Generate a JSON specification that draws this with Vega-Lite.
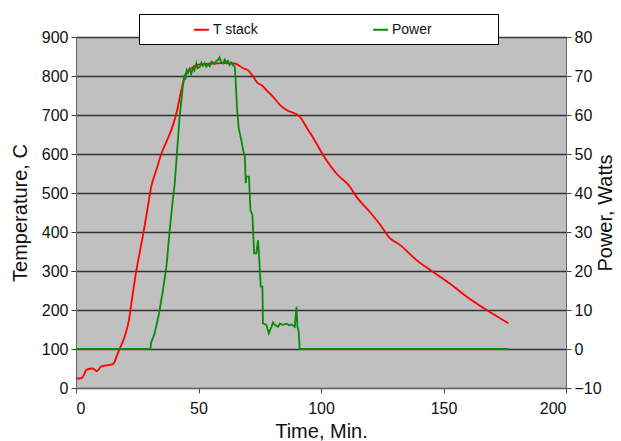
{
  "$schema": "https://vega.github.io/schema/vega-lite/v6.json",
  "width": 490,
  "height": 351,
  "autosize": {"type": "none"},
  "padding": {"left": 76, "top": 37, "right": 55, "bottom": 53},
  "background": "white",
  "config": {
    "view": {"fill": "#C0C0C0", "stroke": "#808080", "strokeWidth": 1},
    "font": "Liberation Sans",
    "axis": {
      "labelFont": "Liberation Sans",
      "titleFont": "Liberation Sans",
      "labelFontSize": 16,
      "titleFontSize": 20,
      "titleFontWeight": "normal",
      "labelColor": "#111",
      "titleColor": "#111",
      "tickColor": "#444",
      "domainColor": "#666",
      "tickSize": 5,
      "labelPadding": 3
    },
    "legend": {
      "orient": "none",
      "legendX": 63,
      "legendY": -23,
      "direction": "horizontal",
      "fillColor": "white",
      "strokeColor": "black",
      "padding": 7,
      "symbolType": "stroke",
      "symbolStrokeWidth": 2,
      "symbolSize": 220,
      "symbolOffset": 47,
      "labelFont": "Liberation Sans",
      "labelFontSize": 14,
      "labelColor": "#111",
      "labelOffset": 3,
      "columnPadding": 66
    }
  },
  "datasets": {
    "tstack": [
      {"t": 0, "T": 24}, {"t": 2.2, "T": 25}, {"t": 3.2, "T": 33}, {"t": 4.3, "T": 47},
      {"t": 6.9, "T": 50}, {"t": 8.5, "T": 43}, {"t": 10.3, "T": 55}, {"t": 12.3, "T": 58},
      {"t": 14.4, "T": 60}, {"t": 15.5, "T": 64}, {"t": 16.4, "T": 78}, {"t": 17.8, "T": 100},
      {"t": 19.8, "T": 131}, {"t": 21.6, "T": 174}, {"t": 22.6, "T": 217}, {"t": 24.6, "T": 300},
      {"t": 26.2, "T": 354}, {"t": 27.6, "T": 401}, {"t": 29.1, "T": 456}, {"t": 30.7, "T": 516},
      {"t": 32.8, "T": 559}, {"t": 34.8, "T": 600}, {"t": 37.5, "T": 640}, {"t": 39.6, "T": 674},
      {"t": 41.3, "T": 713}, {"t": 43, "T": 764}, {"t": 44.3, "T": 798}, {"t": 45.5, "T": 810},
      {"t": 47.1, "T": 820}, {"t": 49.1, "T": 828}, {"t": 52, "T": 830}, {"t": 56, "T": 832},
      {"t": 60, "T": 833}, {"t": 64.8, "T": 832}, {"t": 68.2, "T": 820}, {"t": 70.2, "T": 815},
      {"t": 72.3, "T": 798}, {"t": 74.3, "T": 781}, {"t": 75.7, "T": 777}, {"t": 77.7, "T": 764},
      {"t": 80.4, "T": 747}, {"t": 83.2, "T": 726}, {"t": 85.9, "T": 713}, {"t": 89.3, "T": 704},
      {"t": 91.3, "T": 696}, {"t": 94.7, "T": 662}, {"t": 96.1, "T": 649}, {"t": 100.9, "T": 597},
      {"t": 106.3, "T": 550}, {"t": 111.8, "T": 516}, {"t": 114.5, "T": 490}, {"t": 119.3, "T": 456},
      {"t": 124, "T": 420}, {"t": 128, "T": 385}, {"t": 132.2, "T": 367}, {"t": 139, "T": 328},
      {"t": 145.2, "T": 300}, {"t": 152.6, "T": 268}, {"t": 159.5, "T": 234}, {"t": 167.6, "T": 200},
      {"t": 176.5, "T": 166}
    ],
    "power": [
      {"t": 0, "P": 0}, {"t": 30.4, "P": 0}, {"t": 30.6, "P": 1.5}, {"t": 32.1, "P": 4},
      {"t": 33.9, "P": 9.1}, {"t": 35.5, "P": 15.1}, {"t": 36.9, "P": 21.1}, {"t": 38.2, "P": 30.1},
      {"t": 39.3, "P": 37}, {"t": 40.3, "P": 42.5}, {"t": 41.2, "P": 50.2}, {"t": 42.3, "P": 59.6},
      {"t": 43.6, "P": 67.3}, {"t": 44.3, "P": 70}, {"t": 44.7, "P": 69.5}, {"t": 45.2, "P": 71.5},
      {"t": 45.7, "P": 70.8}, {"t": 46.3, "P": 71.8}, {"t": 47, "P": 70.5}, {"t": 47.7, "P": 72},
      {"t": 48.3, "P": 71.4}, {"t": 49.1, "P": 73.2}, {"t": 49.6, "P": 72}, {"t": 50.5, "P": 72.3},
      {"t": 51.2, "P": 73.4}, {"t": 51.8, "P": 72.6}, {"t": 52.5, "P": 73.3}, {"t": 53.2, "P": 72.4},
      {"t": 54, "P": 73}, {"t": 54.6, "P": 72.5}, {"t": 55.3, "P": 73.7}, {"t": 56, "P": 73.4},
      {"t": 56.6, "P": 73.1}, {"t": 57.3, "P": 73.9}, {"t": 57.9, "P": 74.1}, {"t": 58.6, "P": 74.8},
      {"t": 59.2, "P": 73.6}, {"t": 60, "P": 73.2}, {"t": 60.7, "P": 74.2}, {"t": 61.4, "P": 73.4},
      {"t": 62, "P": 73.9}, {"t": 62.7, "P": 72.8}, {"t": 63.4, "P": 73.5}, {"t": 64.1, "P": 72.8},
      {"t": 64.8, "P": 72.4}, {"t": 65.2, "P": 68.6}, {"t": 65.7, "P": 61.8}, {"t": 66.4, "P": 56.7},
      {"t": 67.5, "P": 53.5}, {"t": 68.2, "P": 51}, {"t": 68.9, "P": 49.3}, {"t": 69.3, "P": 42.5},
      {"t": 69.5, "P": 44.2}, {"t": 70.6, "P": 44.2}, {"t": 71.2, "P": 35.6}, {"t": 72, "P": 34.4},
      {"t": 72.7, "P": 24.5}, {"t": 73.6, "P": 24.5}, {"t": 74.3, "P": 27.9}, {"t": 74.7, "P": 24.1},
      {"t": 75.4, "P": 16}, {"t": 76.1, "P": 16}, {"t": 76.3, "P": 6.6}, {"t": 77.7, "P": 6.2},
      {"t": 78.7, "P": 4}, {"t": 79.8, "P": 5.7}, {"t": 80.4, "P": 6.8}, {"t": 81.1, "P": 6.2},
      {"t": 82.5, "P": 5.7}, {"t": 83.2, "P": 6.5}, {"t": 84.5, "P": 6.2}, {"t": 85.9, "P": 6.5},
      {"t": 87, "P": 6.1}, {"t": 88, "P": 6.3}, {"t": 89.3, "P": 5.7}, {"t": 90, "P": 10.8},
      {"t": 90.4, "P": 5.7}, {"t": 90.9, "P": 4.4}, {"t": 91.3, "P": 0}, {"t": 176.5, "P": 0}
    ]
  },
  "encoding": {
    "x": {
      "field": "t",
      "type": "quantitative",
      "scale": {"domain": [0, 200], "nice": false, "zero": false},
      "axis": {"values": [0, 50, 100, 150, 200], "grid": false, "title": "Time, Min.", "labelPadding": 7, "titlePadding": 5}
    }
  },
  "layer": [
    {
      "data": {"name": "tstack"},
      "mark": {"type": "line", "strokeWidth": 1.8, "interpolate": "monotone"},
      "encoding": {
        "y": {
          "field": "T",
          "type": "quantitative",
          "scale": {"domain": [0, 900], "nice": false},
          "axis": {
            "values": [0, 100, 200, 300, 400, 500, 600, 700, 800, 900],
            "grid": true,
            "gridColor": "#333",
            "gridWidth": 1.3,
            "title": "Temperature, C",
            "titlePadding": 11
          }
        },
        "color": {
          "datum": "T stack",
          "type": "nominal",
          "scale": {"domain": ["T stack", "Power"], "range": ["#FF0000", "#0A8A0A"]},
          "legend": {"title": null, "labelExpr": "datum.label == 'Power' ? 'Power\u00a0\u00a0\u00a0\u00a0\u00a0\u00a0\u00a0\u00a0\u00a0\u00a0\u00a0\u00a0\u00a0\u00a0\u00a0\u200b' : datum.label"}
        }
      }
    },
    {
      "data": {"name": "power"},
      "mark": {"type": "line", "strokeWidth": 1.8},
      "encoding": {
        "y": {
          "field": "P",
          "type": "quantitative",
          "scale": {"domain": [-10, 80], "nice": false, "zero": false},
          "axis": {
            "orient": "right",
            "values": [-10, 0, 10, 20, 30, 40, 50, 60, 70, 80],
            "grid": false,
            "title": "Power, Watts",
            "titleAngle": 270,
            "titlePadding": 14
          }
        },
        "color": {"datum": "Power", "type": "nominal"}
      }
    }
  ],
  "resolve": {"scale": {"y": "independent"}}
}
